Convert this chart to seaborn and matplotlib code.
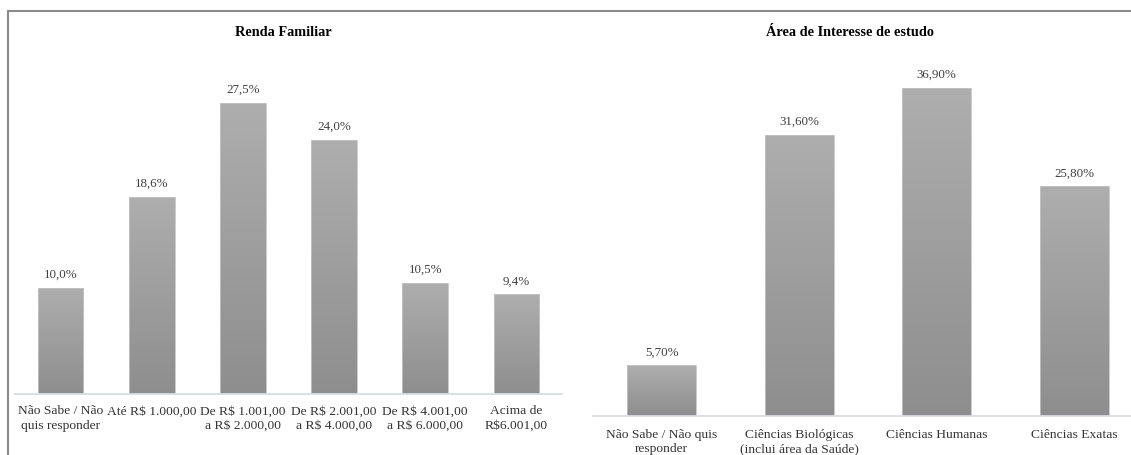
import matplotlib
matplotlib.use("Agg")
import matplotlib.pyplot as plt
from matplotlib.colors import LinearSegmentedColormap
from matplotlib.lines import Line2D
import numpy as np
import pandas as pd
import seaborn as sns

# Renda familiar
renda_categorias = [
    "Não Sabe / Não\nquis responder",
    "Até R$ 1.000,00",
    "De R$ 1.001,00\na R$ 2.000,00",
    "De R$ 2.001,00\na R$ 4.000,00",
    "De R$ 4.001,00\na R$ 6.000,00",
    "Acima de\nR$6.001,00",
]
renda_valores = [10.0, 18.6, 27.5, 24.0, 10.5, 9.4]
renda_rotulos = ["10,0%", "18,6%", "27,5%", "24,0%", "10,5%", "9,4%"]

# Área de interesse de estudo
area_categorias = [
    "Não Sabe / Não quis\nresponder",
    "Ciências Biológicas\n(inclui área da Saúde)",
    "Ciências Humanas",
    "Ciências Exatas",
]
area_valores = [5.7, 31.6, 36.9, 25.8]
area_rotulos = ["5,70%", "31,60%", "36,90%", "25,80%"]

sns.set_theme(style="white")
plt.rcParams["font.family"] = ["Liberation Serif", "DejaVu Serif"]

W, H = 1131, 455
fig = plt.figure(figsize=(W / 100, H / 100), dpi=100)

grad_cmap = LinearSegmentedColormap.from_list("cinza", ["#8e8e8e", "#aeaeae"])


def painel(rect, categorias, valores, rotulos, ymax, tick_pad):
    ax = fig.add_axes(rect)
    df = pd.DataFrame({"cat": categorias, "val": valores})
    sns.barplot(data=df, x="cat", y="val", ax=ax, color="#a0a0a0",
                width=0.5, edgecolor="#c4c4c4", linewidth=0.6, saturation=1)
    ax.set_xlim(-0.5, len(categorias) - 0.5)
    ax.set_ylim(0, ymax)
    grad = np.linspace(0, 1, 256).reshape(-1, 1)
    for patch in ax.patches:
        x0, y0 = patch.get_x(), patch.get_y()
        w, h = patch.get_width(), patch.get_height()
        im = ax.imshow(grad, cmap=grad_cmap, origin="lower", aspect="auto",
                       extent=[x0, x0 + w, y0, y0 + h], zorder=patch.get_zorder() - 0.1)
        im.set_clip_path(patch)
        patch.set_facecolor("none")
    ax.set_xlim(-0.5, len(categorias) - 0.5)
    ax.set_ylim(0, ymax)
    for patch, txt in zip(ax.patches, rotulos):
        ax.annotate(txt, (patch.get_x() + patch.get_width() / 2, patch.get_height()),
                    xytext=(0, 5), textcoords="offset points", ha="center", va="bottom",
                    fontsize=9.4, color="#404040")
    ax.set_xlabel("")
    ax.set_ylabel("")
    ax.set_yticks([])
    ax.tick_params(axis="x", length=0, pad=tick_pad, labelsize=9.7, labelcolor="#333333")
    for lab in ax.get_xticklabels():
        lab.set_multialignment("center")
        lab.set_linespacing(1.3)
    for s in ["top", "left", "right"]:
        ax.spines[s].set_visible(False)
    ax.spines["bottom"].set_color("#d9dde3")
    ax.spines["bottom"].set_linewidth(1.3)
    ax.patch.set_alpha(0)
    return ax


# left panel: baseline y=394, x 15..562, ylim 0..30 -> 318 px
painel([15 / W, (H - 394) / H, 547 / W, 318 / H],
       renda_categorias, renda_valores, renda_rotulos, 30, 8.2)
# right panel: baseline y=416, x 593..1143, ylim 0..40 -> 356 px
painel([593 / W, (H - 416) / H, 550 / W, 356 / H],
       area_categorias, area_valores, area_rotulos, 40, 9.2)

fig.text(283 / W, 1 - 32.5 / H, "Renda Familiar", ha="center", va="center",
         fontsize=10.3, fontweight="bold", color="black")
fig.text(850 / W, 1 - 32.5 / H, "Área de Interesse de estudo", ha="center", va="center",
         fontsize=10.3, fontweight="bold", color="black")

# outer frame (top and left edges)
fig.add_artist(Line2D([8 / W, 1.0], [1 - 11 / H, 1 - 11 / H], transform=fig.transFigure,
                      color="#8a8a8a", linewidth=1.5))
fig.add_artist(Line2D([8 / W, 8 / W], [0, 1 - 11 / H], transform=fig.transFigure,
                      color="#8a8a8a", linewidth=1.5))

fig.savefig("out.png", dpi=100, facecolor="white")
